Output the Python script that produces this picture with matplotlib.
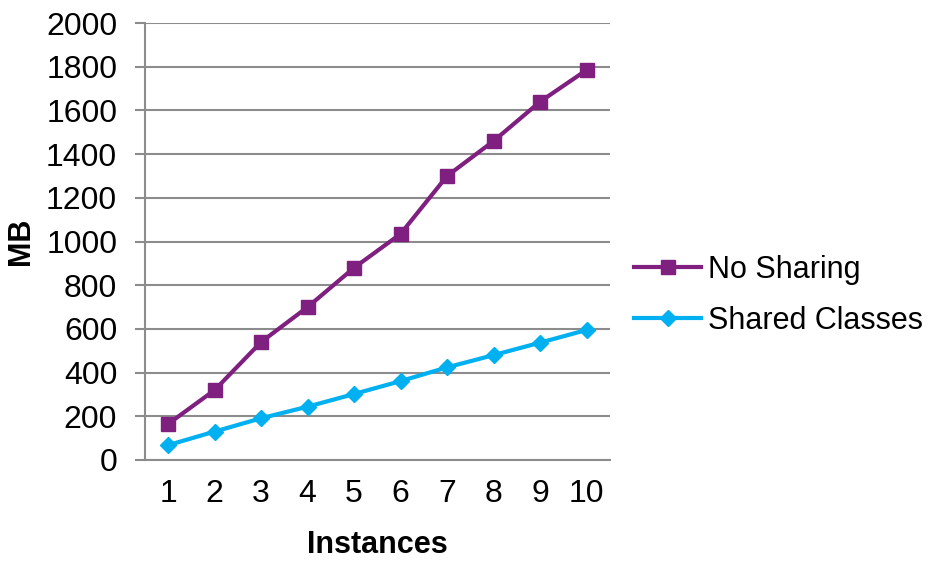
import numpy as np
import matplotlib.pyplot as plt

plt.rcParams['font.family'] = ['Liberation Sans', 'DejaVu Sans']

instances = [1, 2, 3, 4, 5, 6, 7, 8, 9, 10]
no_sharing = [165, 320, 540, 700, 880, 1035, 1300, 1460, 1640, 1785]
shared_classes = [68, 130, 191, 244, 302, 361, 424, 480, 537, 595]

grey = '#8c8c8c'

fig = plt.figure(figsize=(9.41, 5.63), dpi=100)
ax = fig.add_axes([0.154, 0.183, 0.494, 0.776])

ax.plot(instances, no_sharing, color='#7f1f7f', lw=3, marker='s', ms=10,
        label='No Sharing', zorder=3)
ax.plot(instances, shared_classes, color='#00b0f0', lw=3, marker='D', ms=8,
        label='Shared Classes', zorder=3)

ax.set_xlim(0.5, 10.5)
ax.set_ylim(0, 2000)
ax.set_yticks(np.arange(0, 2001, 200))
ax.set_xticks(instances)
ax.yaxis.grid(True, color=grey, lw=1.5)
ax.set_axisbelow(True)

for s in ['top', 'right']:
    ax.spines[s].set_visible(False)
for s in ['left', 'bottom']:
    ax.spines[s].set_color(grey)
    ax.spines[s].set_linewidth(1.5)

ax.tick_params(axis='y', labelsize=23, length=7, width=1.5, color=grey, pad=13)
ax.tick_params(axis='x', labelsize=23, length=0, pad=14)

ax.set_xlabel('Instances', fontsize=22, fontweight='bold', labelpad=15)
ax.set_ylabel('MB', fontsize=22, fontweight='bold', labelpad=7)

ax.legend(loc='center left', bbox_to_anchor=(1.0, 0.377), frameon=False,
          fontsize=22, handlelength=2.2, handletextpad=0.2, labelspacing=0.7,
          borderaxespad=0.4)

fig.savefig('out.png', dpi=100)
